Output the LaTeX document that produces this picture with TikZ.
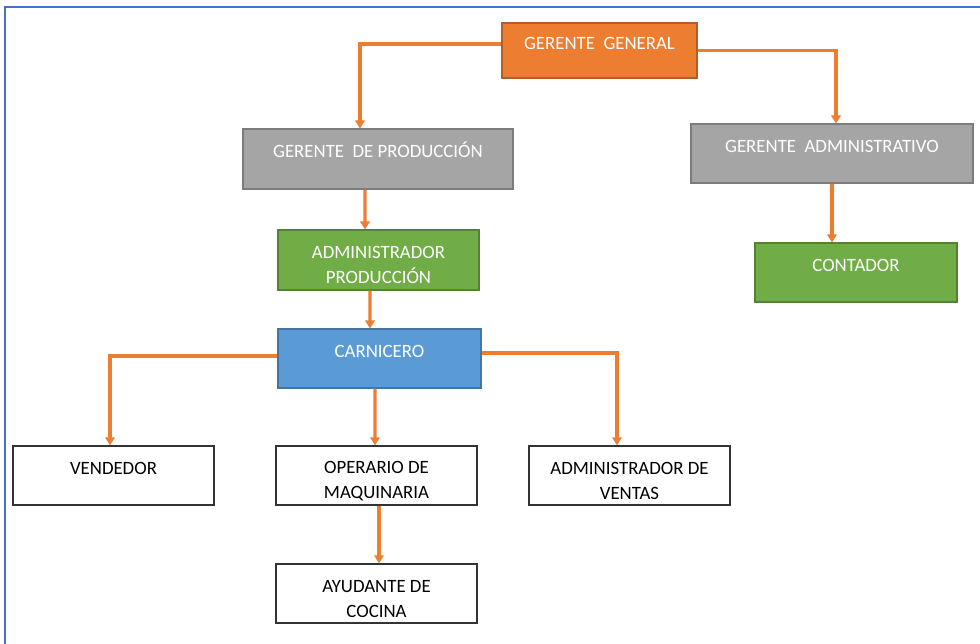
\documentclass[tikz,border=0pt]{standalone}
\usepackage{fontspec}
\setmainfont{Carlito}
\usetikzlibrary{arrows.meta, positioning}
\definecolor{jefe}{HTML}{ED7D31}
\definecolor{gris}{HTML}{A5A5A5}
\definecolor{verde}{HTML}{70AD47}
\definecolor{azul}{HTML}{5B9BD5}
\definecolor{marco}{HTML}{4472C4}
\newcommand{\cargo}[2]{\rule{0pt}{13pt}#1\\\mbox{}#2}

\begin{document}
\begin{tikzpicture}[
    font=\fontsize{10.7}{14.3}\selectfont,
    >={Triangle[length=1.6mm, width=1.9mm]},
    caja/.style={rectangle, minimum width=4.02cm, minimum height=1.18cm, inner sep=0pt, align=center, text=white},
    top/.style={caja, draw=jefe!75!black, fill=jefe, line width=0.8pt},
    ger/.style={caja, draw=gris!75!black, fill=gris, line width=0.6pt},
    adm/.style={caja, draw=verde!75!black, fill=verde, line width=0.6pt},
    prod/.style={caja, draw=azul!75!black, fill=azul, line width=0.6pt},
    base/.style={caja, draw=black!80, fill=white, text=black, line width=0.8pt},
    link/.style={->, draw=jefe, line width=1.8pt},
  ]
  \useasboundingbox (0,0) rectangle (19.6,-12.88);
  \draw[marco, line width=1.2pt] (0.1,-12.88) -- (0.1,-0.14) -- (19.6,-0.14);
  % ------------------------------------------------------------------ direccion
  \node[top, minimum width=3.9cm, minimum height=1.1cm] (gg) at (11.99,-1.01) {\cargo{GERENTE\ \ GENERAL}{}};
  \node[ger, minimum width=5.4cm, minimum height=1.2cm] (gprod) at (7.56,-3.18) {\cargo{GERENTE\ \ DE PRODUCCIÓN}{}};
  \node[ger, minimum width=5.64cm] (gadm) at (16.64,-3.07) {\cargo{GERENTE\ \ ADMINISTRATIVO}{}};
  % ------------------------------------------------------------------ mandos
  \node[adm, minimum height=1.2cm] (admprod) at (7.57,-5.2) {\cargo{ADMINISTRADOR}{PRODUCCIÓN}};
  \node[adm, minimum width=4.04cm] (cont) at (17.12,-5.45) {\cargo{CONTADOR}{}};
  \node[prod, minimum width=4.06cm] (carn) at (7.59,-7.17) {\cargo{CARNICERO}{}};
  % ------------------------------------------------------------------ personal
  \node[base] (vend) at (2.27,-9.51) {\cargo{VENDEDOR}{}};
  \node[base] (oper) at (7.53,-9.51) {\cargo{OPERARIO DE}{MAQUINARIA}};
  \node[base] (admvent) at (12.59,-9.51) {\cargo{ADMINISTRADOR DE}{VENTAS}};
  \node[base] (ayud) at (7.53,-11.87) {\cargo{AYUDANTE DE}{COCINA}};
  % ------------------------------------------------------------------ lineas de mando
  \draw[link] ([yshift=1.3mm]gg.west) -| ([xshift=-3.6mm]gprod.north);
  \draw[link] (gg.east) -| ([xshift=0.8mm]gadm.north);
  \draw[link] ([xshift=-2.6mm]gprod.south) -- ([xshift=-2.7mm]admprod.north);
  \draw[link] (gadm.south) -- (gadm.south |- cont.north);
  \draw[link] ([xshift=-1.7mm]admprod.south) -- ([xshift=-1.9mm]carn.north);
  \draw[link] ([yshift=0.5mm]carn.west) -| ([xshift=-0.7mm]vend.north);
  \draw[link] ([yshift=1.1mm]carn.east) -| ([xshift=-2.5mm]admvent.north);
  \draw[link] ([xshift=-0.9mm]carn.south) -- ([xshift=-0.3mm]oper.north);
  \draw[link] ([xshift=0.5mm]oper.south) -- ([xshift=0.5mm]oper.south |- ayud.north);
\end{tikzpicture}
\end{document}
